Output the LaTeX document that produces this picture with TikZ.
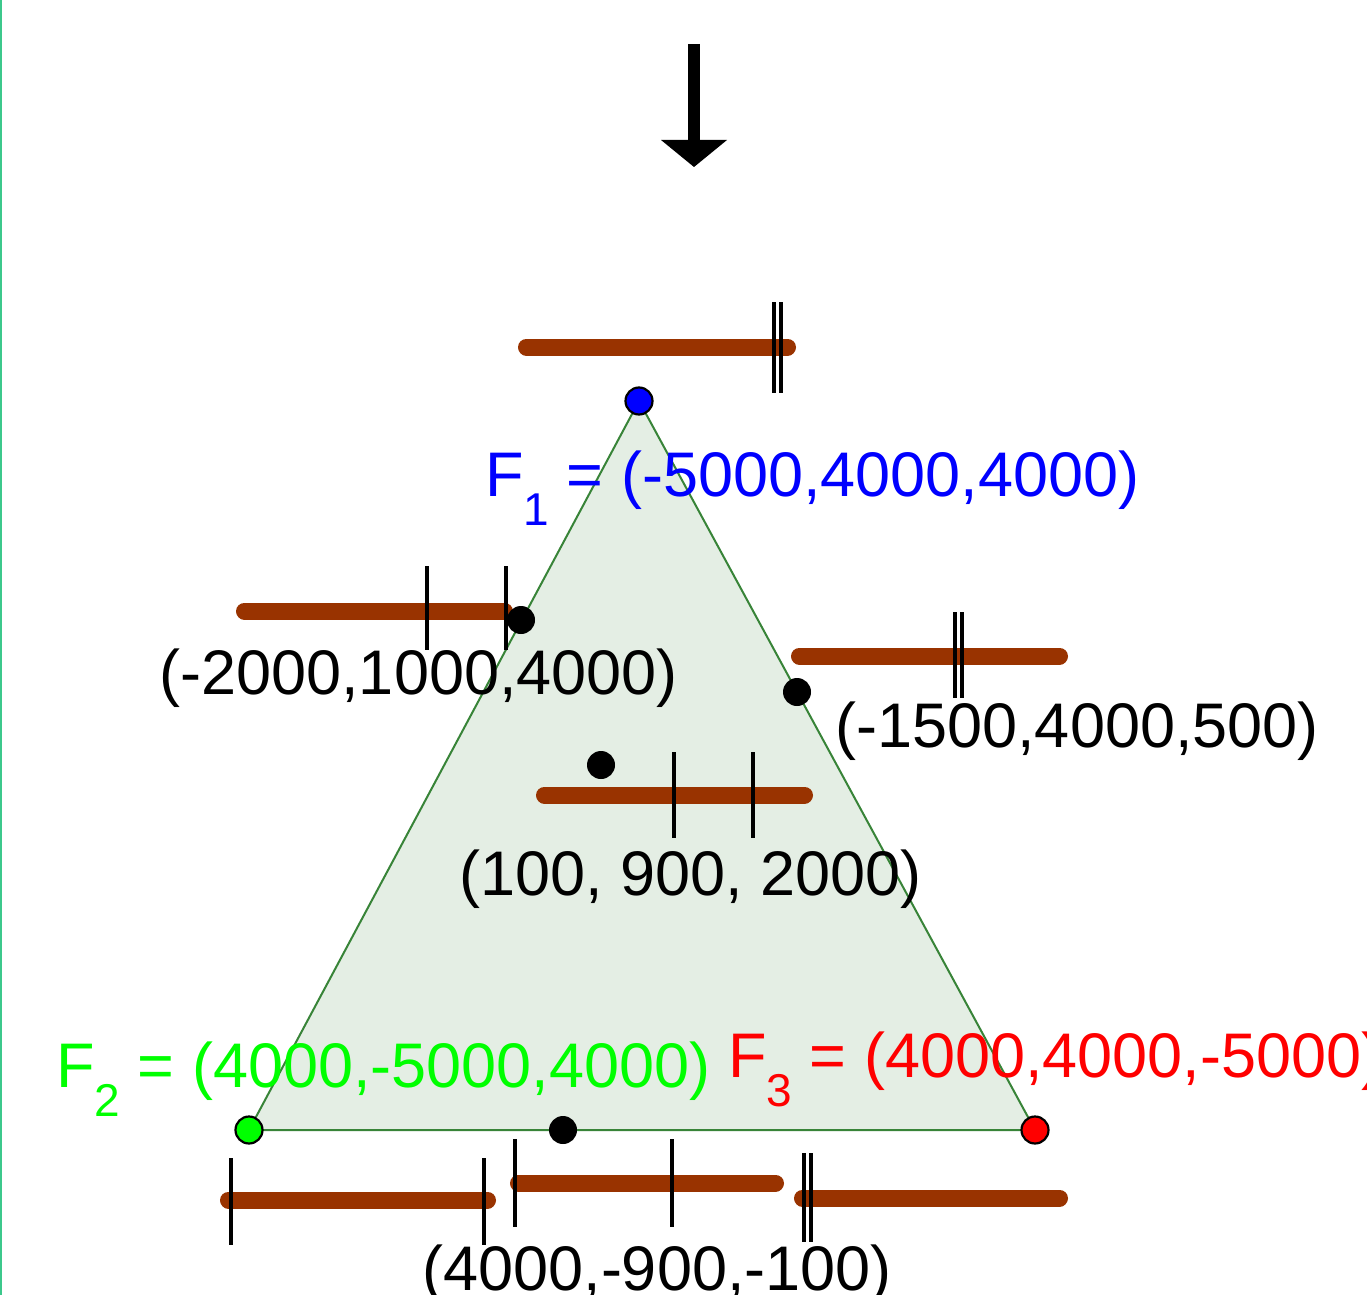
\documentclass[tikz,border=0pt]{standalone}
\usepackage{fontspec}
\setmainfont{Liberation Sans}
\definecolor{barbrown}{RGB}{153,51,0}
\definecolor{trifill}{RGB}{228,238,228}
\definecolor{triedge}{RGB}{56,132,56}
\definecolor{ptblue}{RGB}{0,0,255}
\definecolor{ptgreen}{RGB}{0,255,0}
\definecolor{ptred}{RGB}{255,0,0}
\definecolor{frameline}{RGB}{60,200,140}
\newcommand{\lowsub}[1]{\raisebox{-14.5pt}{\fontsize{23}{24}\selectfont #1}}
\tikzset{
  lbl/.style={anchor=base west, inner sep=0pt, font=\fontsize{31.5}{36}\selectfont},
  barline/.style={line width=8.5pt, line cap=round, draw=barbrown},
  tickmark/.style={line width=1.7pt, draw=black},
  vtx/.style={circle, draw=black, line width=1.1pt, minimum size=13.5pt, inner sep=0pt},
  dotpt/.style={circle, fill=black, minimum size=14pt, inner sep=0pt},
}
\begin{document}
\begin{tikzpicture}[x=0.5pt,y=-0.5pt]
\useasboundingbox (0,0) rectangle (1367,1295);
\clip (0,0) rectangle (1367,1295);
\fill[white] (0,0) rectangle (1367,1295);
% left frame line
\draw[frameline, line width=1pt] (1,0) -- (1,1295);

% arrow
\draw[line width=6pt] (694,44) -- (694,141);
\fill (661,140) -- (727,140) -- (694,167) -- cycle;

% triangle
\coordinate (A) at (639,401);
\coordinate (B) at (249,1130);
\coordinate (C) at (1035,1130);
\filldraw[fill=trifill, draw=triedge, line width=1pt] (A) -- (B) -- (C) -- cycle;

% labels
\node[lbl, text=ptblue] (l1) at (485,496) {F\lowsub{1} = (-5000,4000,4000)};
\node[lbl] (l2) at (159,694) {(-2000,1000,4000)};
\node[lbl] (l3) at (835,747) {(-1500,4000,500)};
\node[lbl] (l4) at (459,895) {(100, 900, 2000)};
\node[lbl, text=ptgreen] (l5) at (56,1087) {F\lowsub{2} = (4000,-5000,4000)};
\node[lbl, text=ptred] (l6) at (728,1077) {F\lowsub{3} = (4000,4000,-5000)};
\node[lbl] (l7) at (422,1290) {(4000,-900,-100)};

% bars
\draw[barline] (526.5,347) -- (787.5,347);
\draw[barline] (244.5,611) -- (504.5,611);
\draw[barline] (799.5,656) -- (1059.5,656);
\draw[barline] (544.5,795) -- (804.5,795);
\draw[barline] (228.5,1200) -- (487.5,1200);
\draw[barline] (518.5,1183) -- (775.5,1183);
\draw[barline] (802.5,1198) -- (1059.5,1198);

% ticks
\draw[tickmark] (774,302) -- (774,393);
\draw[tickmark] (781,302) -- (781,393);
\draw[tickmark] (427,566) -- (427,650);
\draw[tickmark] (506,566) -- (506,650);
\draw[tickmark] (955,612) -- (955,698);
\draw[tickmark] (962,612) -- (962,698);
\draw[tickmark] (674,752) -- (674,838);
\draw[tickmark] (753,752) -- (753,838);
\draw[tickmark] (231,1158) -- (231,1245);
\draw[tickmark] (484,1158) -- (484,1245);
\draw[tickmark] (515,1139) -- (515,1227);
\draw[tickmark] (672,1139) -- (672,1227);
\draw[tickmark] (804,1153) -- (804,1242);
\draw[tickmark] (811,1153) -- (811,1242);

% points
\node[vtx, fill=ptblue] (F1) at (A) {};
\node[vtx, fill=ptgreen] (F2) at (B) {};
\node[vtx, fill=ptred] (F3) at (C) {};
\node[dotpt] (P1) at (521,620) {};
\node[dotpt] (P2) at (797,692) {};
\node[dotpt] (P3) at (601,765) {};
\node[dotpt] (P4) at (563,1130) {};
\end{tikzpicture}
\end{document}
